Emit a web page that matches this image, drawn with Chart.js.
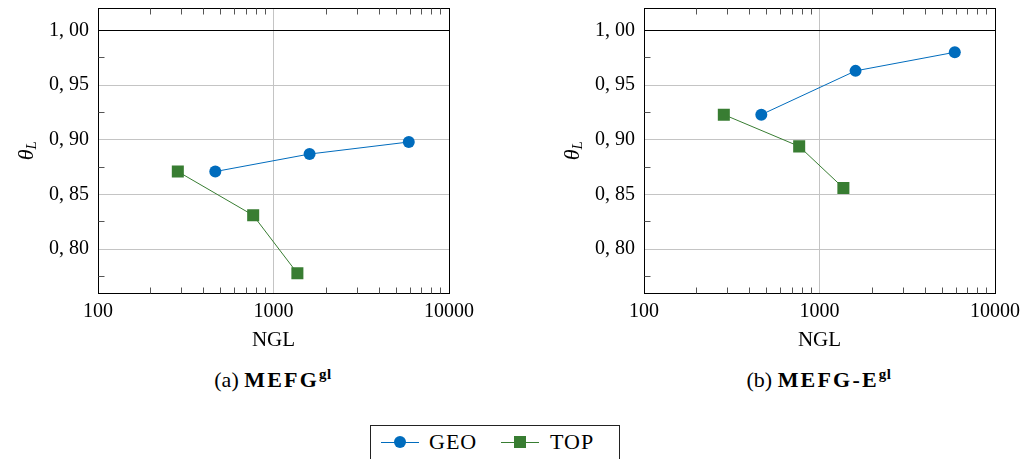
<!DOCTYPE html>
<html>
<head>
<meta charset="utf-8">
<script src="https://cdn.jsdelivr.net/npm/chart.js@4.4.1/dist/chart.umd.min.js"></script>
<style>
  html, body { margin: 0; padding: 0; background: #fff; }
  body { width: 1027px; height: 459px; position: relative; overflow: hidden;
         font-family: "Liberation Serif", "DejaVu Serif", serif; color: #000; }
  canvas { position: absolute; top: 0; }
  #chart-a { left: 0; }
  #chart-b { left: 546px; }
  .caption { position: absolute; top: 367px; width: 400px; text-align: center; font-size: 22px; }
  .caption b { letter-spacing: 2.2px; }
  .caption sup { font-size: 15px; vertical-align: 8px; line-height: 0; letter-spacing: 0.5px; }
  #cap-a { left: 73px; }
  #cap-b { left: 619px; }
  .legend { position: absolute; left: 370px; top: 425px; width: 248px; height: 40px;
            border: 1px solid #222; font-size: 22px; }
  .legend .sample { position: absolute; top: 16px; width: 38px; height: 1px; }
  .legend .sample i { position: absolute; left: 13px; top: -6px; width: 12px; height: 12px; }
  .legend .label { position: absolute; top: 3px; letter-spacing: 1px; }
</style>
</head>
<body>
<canvas id="chart-a" width="480" height="360"></canvas>
<canvas id="chart-b" width="480" height="360"></canvas>
<div class="caption" id="cap-a">(a) <b>MEFG<sup>gl</sup></b></div>
<div class="caption" id="cap-b">(b) <b>MEFG-E<sup>gl</sup></b></div>
<div class="legend" id="legend"></div>

<script>
// ---- données ----
const seriesNames = ['GEO', 'TOP'];
const geoNgl = [466, 1605, 5900];
const topNgl = [285, 766, 1368];

// (a) MEFG^gl
const geoThetaA = [0.871, 0.887, 0.898];
const topThetaA = [0.871, 0.831, 0.778];
// (b) MEFG-E^gl
const geoThetaB = [0.923, 0.963, 0.980];
const topThetaB = [0.923, 0.894, 0.856];

const xTicks = [100, 1000, 10000];
const xMinorTicks = [200, 300, 400, 500, 600, 700, 800, 900, 2000, 3000, 4000, 5000, 6000, 7000, 8000, 9000];
const yTicks = [0.80, 0.85, 0.90, 0.95, 1.00];
const yMinorTicks = [0.775, 0.825, 0.875, 0.925, 0.975];

const geoColor = 'rgb(0, 108, 189)';
const topColor = 'rgb(56, 125, 50)';
const serifFont = '"Liberation Serif", "DejaVu Serif", serif';

// aligne une ligne de 1px sur la grille des pixels
const px = v => Math.round(v - 0.5) + 0.5;

// cadre complet + petites graduations vers l'intérieur + titre θ_L
const framePlugin = {
  id: 'frame',
  afterDraw(chart) {
    const { ctx, chartArea: a, scales } = chart;
    const l = px(a.left), r = px(a.right), t = px(a.top), b = px(a.bottom);
    ctx.save();
    ctx.strokeStyle = '#000';
    ctx.lineWidth = 1;
    ctx.strokeRect(l, t, r - l, b - t);

    ctx.strokeStyle = '#555';
    ctx.beginPath();
    xMinorTicks.forEach(v => {
      const x = px(scales.x.getPixelForValue(v));
      ctx.moveTo(x, b); ctx.lineTo(x, b - 6);
      ctx.moveTo(x, t); ctx.lineTo(x, t + 6);
    });
    yMinorTicks.forEach(v => {
      const y = px(scales.y.getPixelForValue(v));
      ctx.moveTo(l, y); ctx.lineTo(l + 6, y);
    });
    ctx.stroke();

    // titre de l'axe y : θ avec L en indice
    ctx.fillStyle = '#000';
    ctx.translate(27, (a.top + a.bottom) / 2);
    ctx.rotate(-Math.PI / 2);
    ctx.textBaseline = 'middle';
    ctx.font = 'italic 22px ' + serifFont;
    const w1 = ctx.measureText('θ').width;
    ctx.font = 'italic 15px ' + serifFont;
    const w2 = ctx.measureText('L').width;
    const x0 = -(w1 + w2) / 2;
    ctx.font = 'italic 22px ' + serifFont;
    ctx.fillText('θ', x0, 0);
    ctx.font = 'italic 15px ' + serifFont;
    ctx.fillText('L', x0 + w1, 5);
    ctx.restore();
  }
};

function makeChart(id, geoTheta, topTheta) {
  const ctx = document.getElementById(id);
  return new Chart(ctx, {
    type: 'line',
    data: {
      datasets: [
        {
          label: seriesNames[0],
          data: geoNgl.map((x, i) => ({ x: x, y: geoTheta[i] })),
          borderColor: geoColor,
          backgroundColor: geoColor,
          borderWidth: 1,
          pointStyle: 'circle',
          pointRadius: 6,
          pointBorderWidth: 0
        },
        {
          label: seriesNames[1],
          data: topNgl.map((x, i) => ({ x: x, y: topTheta[i] })),
          borderColor: topColor,
          backgroundColor: topColor,
          borderWidth: 1,
          pointStyle: 'rect',
          pointRadius: 8.5,
          pointBorderWidth: 0
        }
      ]
    },
    options: {
      responsive: false,
      animation: false,
      devicePixelRatio: 1,
      layout: { padding: { top: 7, right: 31, left: 0, bottom: 0 } },
      plugins: { legend: { display: false }, tooltip: { enabled: false } },
      scales: {
        x: {
          type: 'logarithmic',
          min: 100,
          max: 10000,
          afterBuildTicks: s => { s.ticks = xTicks.map(v => ({ value: v })); },
          afterFit: s => { s.height = 67; s.paddingLeft = 0; s.paddingRight = 0; },
          grid: { color: '#c4c4c4', lineWidth: 1, drawTicks: false },
          border: { color: '#000', width: 1 },
          ticks: {
            padding: 7,
            color: '#000',
            font: { family: serifFont, size: 20 },
            maxRotation: 0,
            autoSkip: false,
            callback: v => String(v)
          },
          title: {
            display: true,
            text: 'NGL',
            color: '#000',
            font: { family: serifFont, size: 21 },
            padding: { top: 0, bottom: 7 }
          }
        },
        y: {
          min: 0.76,
          max: 1.02,
          afterBuildTicks: s => { s.ticks = yTicks.map(v => ({ value: v })); },
          afterFit: s => { s.width = 98; s.paddingTop = 0; s.paddingBottom = 0; },
          grid: {
            drawTicks: false,
            lineWidth: 1,
            color: c => (c.tick && Math.abs(c.tick.value - 1) < 1e-9) ? '#000' : '#c4c4c4'
          },
          border: { color: '#000', width: 1 },
          ticks: {
            padding: 9,
            color: '#000',
            font: { family: serifFont, size: 20 },
            callback: v => v.toFixed(2).replace('.', ', ')
          }
        }
      }
    },
    plugins: [framePlugin]
  });
}

makeChart('chart-a', geoThetaA, topThetaA);
makeChart('chart-b', geoThetaB, topThetaB);

// légende commune (HTML)
const legend = document.getElementById('legend');
const legendItems = [
  { name: seriesNames[0], color: geoColor, round: true, left: 10, textLeft: 58 },
  { name: seriesNames[1], color: topColor, round: false, left: 130, textLeft: 179 }
];
legendItems.forEach(it => {
  const sample = document.createElement('span');
  sample.className = 'sample';
  sample.style.left = it.left + 'px';
  sample.style.background = it.color;
  const mark = document.createElement('i');
  mark.style.background = it.color;
  if (it.round) mark.style.borderRadius = '50%';
  sample.appendChild(mark);
  const label = document.createElement('span');
  label.className = 'label';
  label.style.left = it.textLeft + 'px';
  label.textContent = it.name;
  legend.appendChild(sample);
  legend.appendChild(label);
});
</script>
</body>
</html>
